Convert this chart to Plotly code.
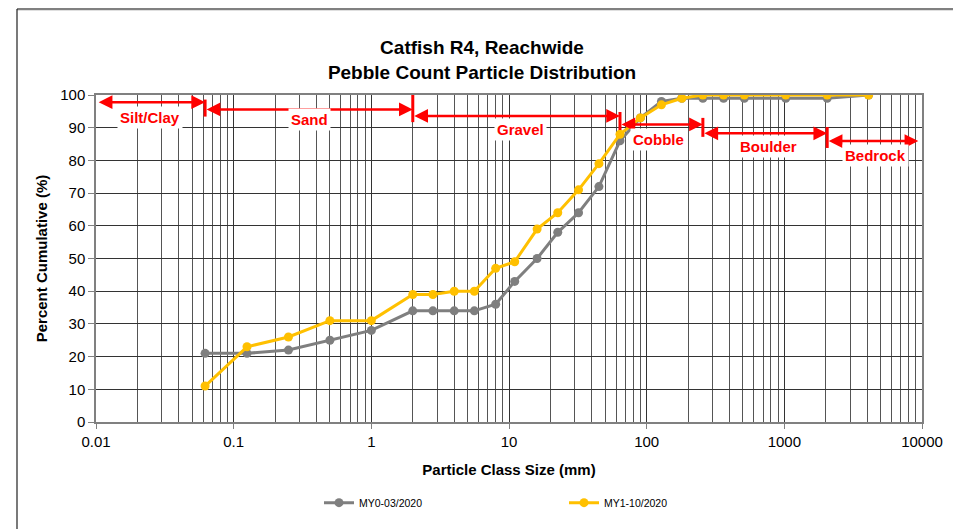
import plotly.graph_objects as go
import math

# ---- data ----
sizes_mm = [0.062, 0.125, 0.25, 0.5, 1, 2, 2.8, 4, 5.6, 8, 11, 16, 22.6, 32, 45,
            64, 90, 128, 180, 256, 362, 512, 1024, 2048, 4096]
my0_pct = [21, 21, 22, 25, 28, 34, 34, 34, 34, 36, 43, 50, 58, 64, 72,
           86, 93, 98, 99, 99, 99, 99, 99, 99, 100]
my1_pct = [11, 23, 26, 31, 31, 39, 39, 40, 40, 47, 49, 59, 64, 71, 79,
           88, 93, 97, 99, 100, 100, 100, 100, 100, 100]
series_names = ["MY0-03/2020", "MY1-10/2020"]
x_tickvals = [0.01, 0.1, 1, 10, 100, 1000, 10000]
x_ticktext = ["0.01", "0.1", "1", "10", "100", "1000", "10000"]

# size classes
class_names = ["Silt/Clay", "Sand", "Gravel", "Cobble", "Boulder", "Bedrock"]
class_start = [0.0102, 0.062, 2, 64, 256, 2048]
class_end = [0.062, 2, 64, 256, 2048, 9400]
class_arrow_y = [97.8, 95.6, 93.6, 91.0, 88.3, 85.9]
class_label_x = [0.0247, 0.358, 12.2, 122.7, 771, 4610]
class_label_y = [93.0, 92.4, 89.3, 86.3, 84.2, 81.4]
# boundary tick bars
bar_x = [0.062, 2, 64, 256, 2048]
bar_y0 = [93.4, 91.7, 89.3, 87.2, 83.8]
bar_y1 = [98.6, 100.0, 94.8, 93.0, 90.2]

GRAY = "#7F7F7F"
GOLD = "#FFC000"
RED = "#FF0000"
FONT = "Liberation Sans"

# page shows the figure offset by 8px (body margin)
OFF = 8
W, H = 961 - OFF, 529 - OFF
L, R, T, B = 96 - OFF, 922 - OFF, 95 - OFF, 422.3 - OFF
pw, ph = R - L, B - T
def px(xp):
    return (xp - OFF - L) / pw
def py(yp):
    return (B - (yp - OFF)) / ph

fig = go.Figure()
fig.add_trace(go.Scatter(x=sizes_mm, y=my0_pct, name=series_names[0], mode="lines+markers",
                         line=dict(color=GRAY, width=3), marker=dict(color=GRAY, size=9)))
fig.add_trace(go.Scatter(x=sizes_mm, y=my1_pct, name=series_names[1], mode="lines+markers",
                         line=dict(color=GOLD, width=3), marker=dict(color=GOLD, size=9)))

annotations = []
for i, nm in enumerate(class_names):
    annotations.append(dict(
        x=math.log10(class_end[i]), y=class_arrow_y[i],
        ax=math.log10(class_start[i]), ay=class_arrow_y[i],
        xref="x", yref="y", axref="x", ayref="y",
        text="", showarrow=True, arrowside="end+start",
        arrowhead=2, startarrowhead=2, arrowsize=1.1, startarrowsize=1.1,
        arrowwidth=2.5, arrowcolor=RED, standoff=0, startstandoff=0))
    annotations.append(dict(
        x=math.log10(class_label_x[i]), y=class_label_y[i], xref="x", yref="y",
        text="<b>" + nm + "</b>", showarrow=False,
        font=dict(family=FONT, size=15, color=RED),
        bgcolor="white", borderpad=2))

shapes = []
for i, bx in enumerate(bar_x):
    shapes.append(dict(type="line", xref="x", yref="y", x0=bx, x1=bx,
                       y0=bar_y0[i], y1=bar_y1[i], line=dict(color=RED, width=3)))

shapes.append(dict(type="line", xref="paper", yref="paper", x0=px(17), x1=px(957),
                   y0=py(9), y1=py(9), line=dict(color="#808080", width=2.5)))
shapes.append(dict(type="line", xref="paper", yref="paper", x0=px(17), x1=px(17),
                   y0=py(9), y1=py(545), line=dict(color="#202020", width=1.2)))
shapes.append(dict(type="line", xref="paper", yref="paper", x0=px(957), x1=px(957),
                   y0=py(9), y1=py(545), line=dict(color="#202020", width=1.2)))

fig.update_layout(
    width=W, height=H,
    margin=dict(l=L, r=W - R, t=T, b=H - B),
    paper_bgcolor="white", plot_bgcolor="white",
    font=dict(family=FONT, color="black"),
    title=dict(text="<b>Catfish R4, Reachwide<br>Pebble Count Particle Distribution</b>",
               x=(482 - OFF) / W, xref="container", xanchor="center",
               y=1 - (54 - OFF) / H, yref="container", yanchor="middle",
               font=dict(family=FONT, size=19, color="black")),
    xaxis=dict(type="log", range=[-2, 4], tickvals=x_tickvals, ticktext=x_ticktext,
               showgrid=True, gridcolor="#333333", gridwidth=1,
               minor=dict(dtick="D1", showgrid=True, gridcolor="#555555", gridwidth=1),
               ticks="outside", ticklen=5, tickcolor="#808080",
               showline=True, linecolor="#808080", linewidth=1.5, mirror=True,
               tickfont=dict(size=15), zeroline=False,
               title=dict(text="<b>Particle Class Size (mm)</b>", font=dict(size=15), standoff=16)),
    yaxis=dict(range=[0, 100], dtick=10, showgrid=True, gridcolor="#333333", gridwidth=1,
               ticks="outside", ticklen=6, tickcolor="#808080",
               showline=True, linecolor="#808080", linewidth=1.5, mirror=True,
               tickfont=dict(size=15), zeroline=False,
               title=dict(text="<b>Percent Cumulative (%)</b>", font=dict(size=15), standoff=9)),
    legend=dict(orientation="h", x=px(319), xanchor="left", y=py(503), yanchor="middle",
                font=dict(size=10.5), entrywidth=200, entrywidthmode="pixels",
                bgcolor="rgba(0,0,0,0)"),
    annotations=annotations,
    shapes=shapes,
    showlegend=True,
)

fig.write_html("out.html")
